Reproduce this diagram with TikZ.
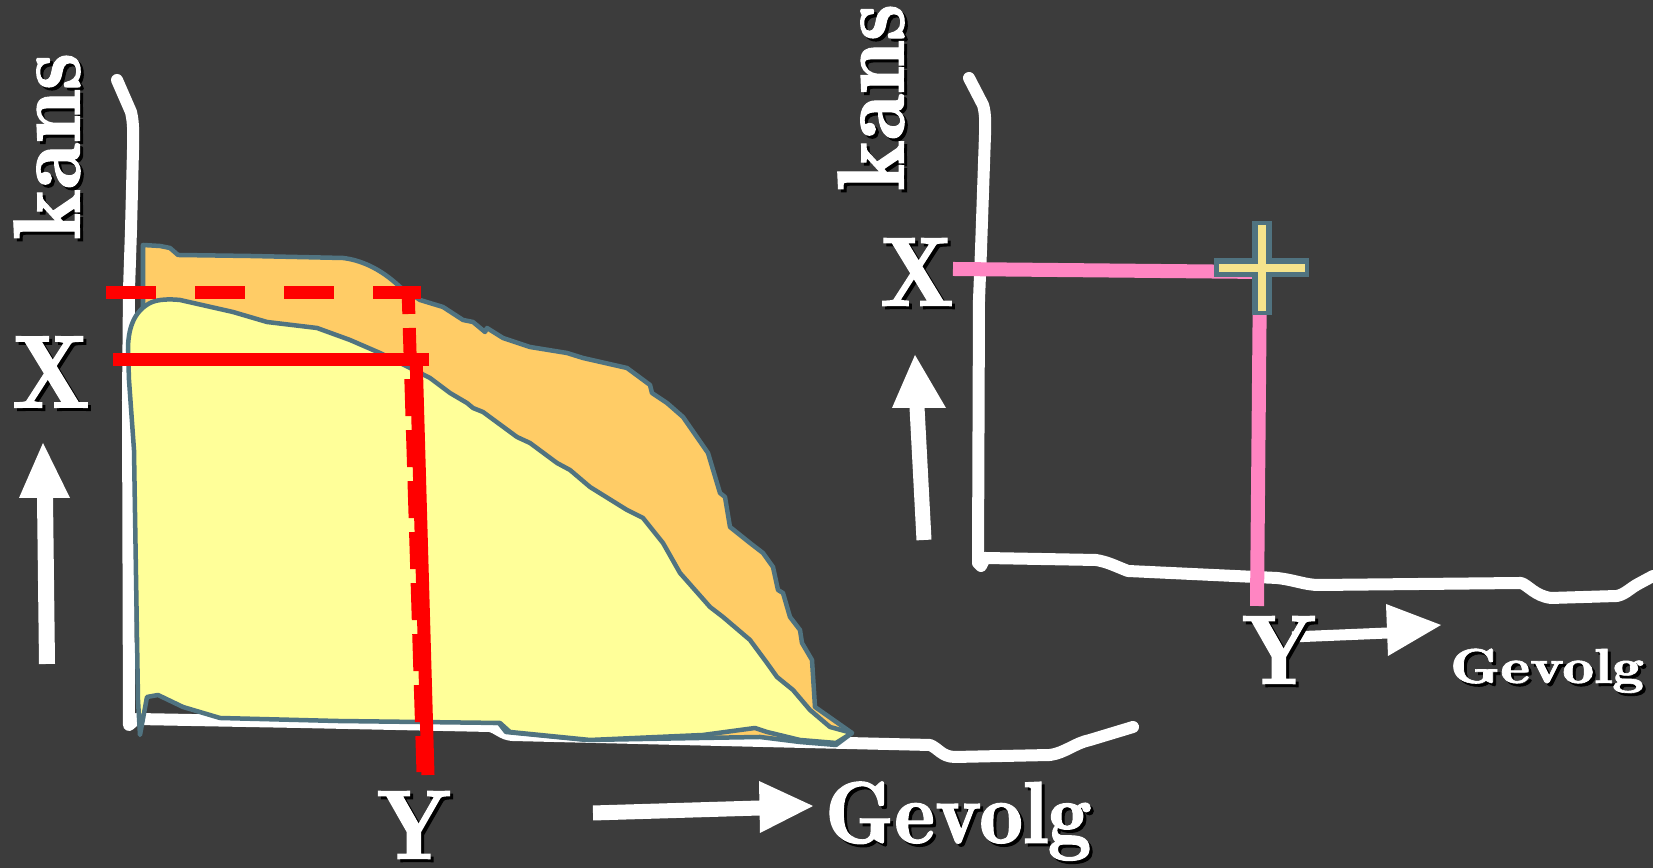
\documentclass[tikz,border=0pt]{standalone}
\usepackage{fontspec}
\newfontfamily\lblfont{lmromandemi10-regular.otf}[FakeBold=1.2]
\definecolor{bg}{RGB}{60,60,60}
\definecolor{yel}{RGB}{255,255,153}
\definecolor{ora}{RGB}{255,204,102}
\definecolor{slate}{RGB}{80,115,128}
\definecolor{pinkl}{RGB}{255,133,194}
\definecolor{plusy}{RGB}{245,228,140}
\definecolor{redl}{RGB}{255,0,0}
\newcommand\shlabel[4]{%
  \node[lbl,black,#3] at ([shift={(3,3)}]#2) {#4};
  \node[lbl,white,#3] (#1) at (#2) {#4};
}
\begin{document}
\begin{tikzpicture}[x=0.01cm,y=-0.01cm,
  axisline/.style={white,line width=0.12cm,line cap=round,line join=round},
  shaft/.style={white,line cap=butt},
  curveline/.style={draw=slate,line width=0.045cm,line join=round},
  redline/.style={redl,line width=0.13cm,line cap=butt},
  pinkline/.style={pinkl,line width=0.14cm,line cap=butt},
  lbl/.style={inner sep=0pt,outer sep=0pt},
  big/.style={font=\lblfont\fontsize{29.5}{30}\selectfont},
  mid/.style={font=\lblfont\fontsize{28}{29}\selectfont},
  kansf/.style={font=\lblfont\fontsize{27}{28}\selectfont},
  gevf/.style={font=\lblfont\fontsize{25}{26}\selectfont},
  smallg/.style={font=\lblfont\fontsize{14}{15}\selectfont,xscale=1.3}]
\useasboundingbox (0,0) rectangle (1653,868);
\fill[bg] (0,0) rectangle (1653,868);

% ---------- left chart ----------
\draw[axisline] (117,80) -- (131,112) .. controls (134,125) and (133,135) .. (133,150)
  -- (131,230) -- (129,290) -- (128,400) -- (129,725) -- (136,719)
  -- (300,722) -- (490,726) .. controls (498,728) and (502,734) .. (512,735)
  -- (930,745) .. controls (938,748) and (942,757) .. (955,757)
  -- (1050,755) .. controls (1065,753) and (1075,743) .. (1090,740) -- (1133,727);

\fill[ora,curveline] (143,245) -- (160,246) -- (170,248) -- (178,255) -- (250,256)
  -- (343,258) .. controls (360,260) and (380,268) .. (400,287) -- (420,300) -- (443,307)
  -- (463,320) -- (473,322) -- (485,332) -- (487,328) -- (503,338) -- (530,347)
  -- (567,353) -- (583,358) -- (627,368) -- (650,385) -- (652,393) -- (667,403)
  -- (683,417) -- (708,453) -- (720,493) -- (725,497) -- (730,527) -- (750,543)
  -- (763,553) -- (773,567) -- (778,590) -- (783,593) -- (790,617) -- (800,630)
  -- (802,643) -- (812,660) -- (815,707) -- (852,733) -- (836,745) -- (800,742)
  -- (760,737) -- (700,738) -- (587,740) -- (506,732) -- (499,723) -- (300,715)
  -- (180,700) -- (143,690) -- cycle;

\fill[yel,curveline] (128,350) .. controls (128,330) and (133,312) .. (150,303)
  .. controls (158,299) and (170,299) .. (180,300)
  -- (233,312) -- (267,322) -- (317,328) -- (350,340) -- (380,353) -- (420,373)
  -- (430,378) -- (450,393) -- (467,403) -- (473,408) -- (483,412) -- (517,437)
  -- (530,443) -- (557,463) -- (570,470) -- (590,487) -- (627,510) -- (643,518)
  -- (663,543) -- (680,573) -- (710,607) -- (723,617) -- (750,640) -- (767,663)
  -- (777,677) -- (793,690) -- (810,710) -- (830,727) -- (852,733) -- (836,743)
  -- (800,740) -- (767,732) -- (755,728) -- (703,735) -- (590,740) -- (510,732)
  -- (500,723) -- (337,721) -- (220,718) -- (183,707) -- (158,695) -- (147,697)
  -- (140,735) -- (138,700) -- (134,450) -- (129,380) -- cycle;

\draw[redline,dash pattern=on 0.50cm off 0.39cm] (106,293) -- (421,293);
\draw[redline,dash pattern=on 0.37cm off 0.14cm,dash phase=0.10cm] (408,287) -- (423,772);
\draw[redline] (113,360) -- (429,360);
\draw[redline] (416,354) -- (428,775);

% left arrows
\draw[shaft,line width=0.16cm] (47,664) -- (45,497);
\fill[white] (19,498) -- (43,443) -- (70,498) -- cycle;
\draw[shaft,line width=0.15cm] (593,813) -- (760,808);
\fill[white] (759,781) -- (813,806) -- (760,833) -- cycle;

\shlabel{kansL}{47,146}{kansf,rotate=90}{kans}
\shlabel{xL}{51,372}{big}{X}
\shlabel{yL}{414,825}{mid}{Y}
\shlabel{gevL}{825,843}{gevf,anchor=base west}{Gevolg}

% ---------- right chart ----------
\draw[axisline] (969,78) -- (983,105) .. controls (986,115) and (985,125) .. (985,135)
  -- (981,250) -- (979,300) -- (978,563) -- (981,566) -- (985,558) -- (1096,560)
  .. controls (1108,562) and (1115,566) .. (1128,571) -- (1277,578)
  .. controls (1295,580) and (1305,585) .. (1319,585) -- (1521,583)
  .. controls (1528,585) and (1535,596) .. (1551,598) -- (1617,596)
  .. controls (1626,594) and (1630,588) .. (1640,583) -- (1653,576);

\draw[pinkline] (953,269) -- (1262,272);
\draw[pinkline] (1260,272) -- (1257,606);
\draw[slate,line width=0.19cm] (1262,221) -- (1262,315) (1214,268) -- (1309,268);
\draw[plusy,line width=0.08cm] (1262,225) -- (1262,311) (1219,268) -- (1305,268);

\draw[shaft,line width=0.15cm] (924,540) -- (917,407);
\fill[white] (892,408) -- (915,355) -- (946,408) -- cycle;
\draw[shaft,line width=0.11cm] (1292,637) -- (1388,633);
\fill[white] (1386,604) -- (1441,625) -- (1388,656) -- cycle;

\shlabel{kansR}{871,97}{kansf,rotate=90}{kans}
\shlabel{xR}{917,272}{mid}{X}
\shlabel{yR}{1279,650}{mid}{Y}
\shlabel{gevR}{1450,683}{smallg,anchor=base west}{Gevolg}
\end{tikzpicture}
\end{document}
